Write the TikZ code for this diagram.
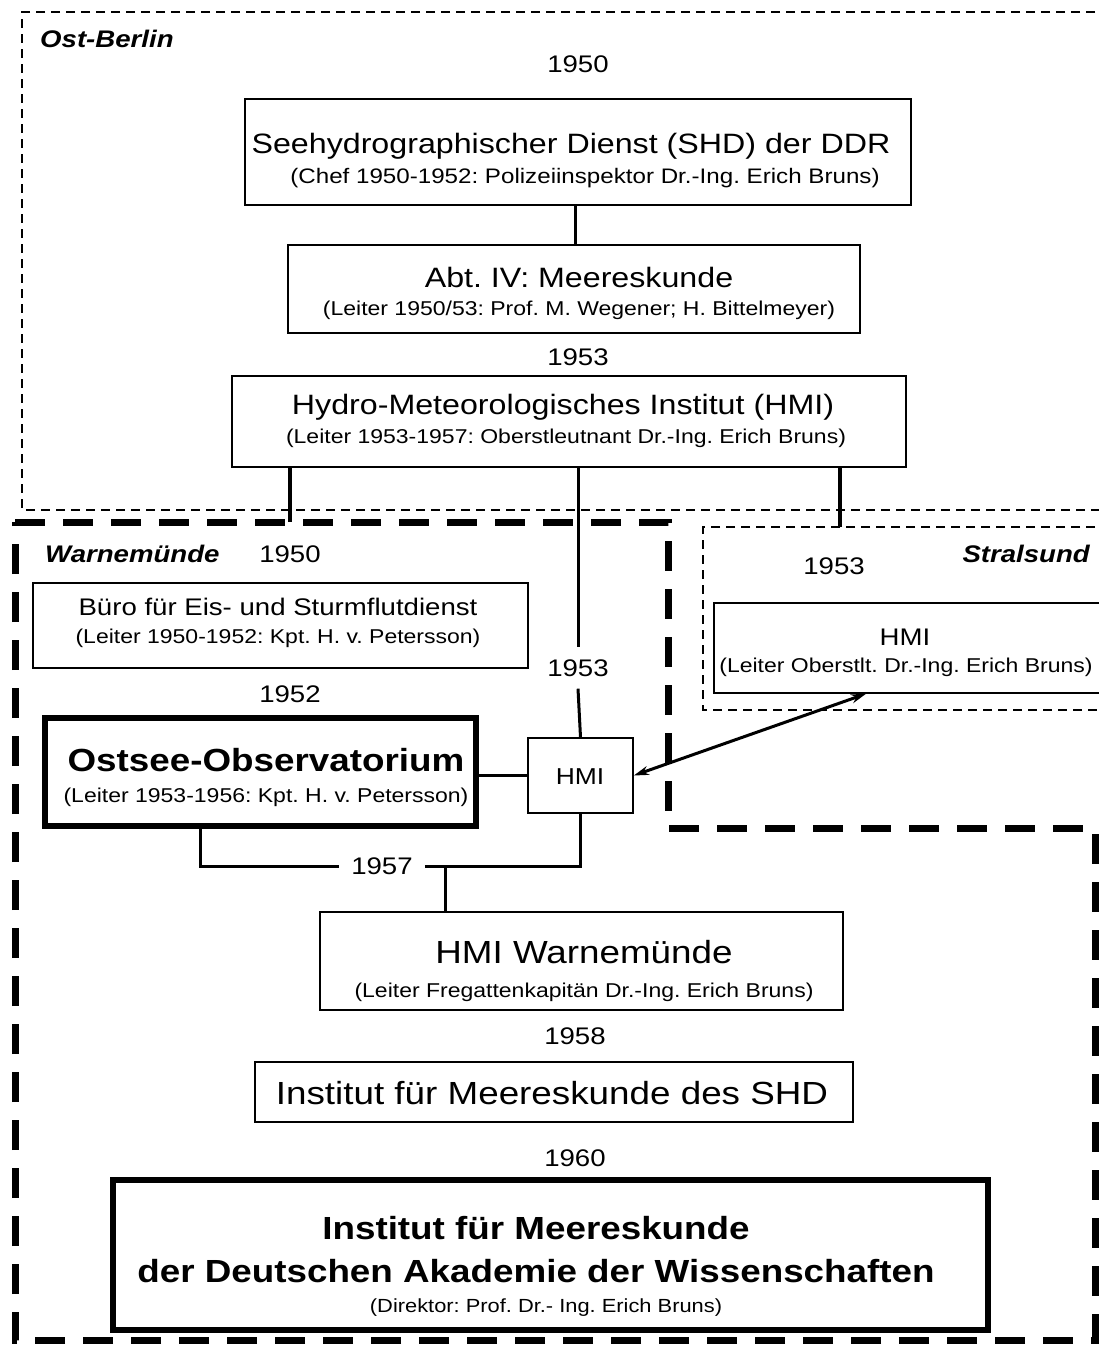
\documentclass[tikz,border=0pt]{standalone}
\usepackage{fontspec}
\setmainfont{Liberation Sans}[FakeStretch=1.15]
\usetikzlibrary{arrows.meta}
\newcommand\fsz[1]{\fontsize{#1pt}{#1pt}\selectfont}
\frenchspacing
\begin{document}
\begin{tikzpicture}[x=1pt,y=-1pt,
  box/.style={draw, line width=1.6pt, inner sep=0pt},
  heavybox/.style={draw, line width=5.5pt, inner sep=0pt},
  txt/.style={anchor=base, inner sep=0pt},
  yr/.style={anchor=base, inner sep=0pt, font=\fsz{24}},
  reg/.style={anchor=base, inner sep=0pt, font=\fsz{24}\bfseries\itshape},
  conn/.style={line width=3pt},
  thindash/.style={line width=1.8pt, dash pattern=on 9pt off 6pt},
  thickdash/.style={line width=7pt, dash pattern=on 30pt off 18pt}
]
\useasboundingbox (0,0) rectangle (1099,1347);
\fill[white] (0,0) rectangle (1099,1347);

% regions
\draw[thindash] (1110,12) -- (22,12) -- (22,510) -- (1110,510);
\draw[thindash] (1110,527) -- (703,527) -- (703,710) -- (1110,710);
\draw[thickdash] (15,522) -- (668,522) -- (668,828) -- (1095,828) -- (1095,1340) -- (15,1340) -- cycle;

\node[reg, anchor=base west] (lob) at (40,47) {Ost-Berlin};
\node[reg, anchor=base west] (lwm) at (45,562) {Warnemünde};
\node[reg, anchor=base east] (lst) at (1090,562) {Stralsund};

% Ost-Berlin
\node[yr] (y50a) at (578,72) {1950};
\node[box, minimum width=666, minimum height=106] (shd) at (578,152) {};
\node[txt, font=\fsz{28}] (shdt) at (571,153) {Seehydrographischer Dienst (SHD) der DDR};
\node[txt, font=\fsz{21}] (shds) at (585,183) {(Chef 1950-1952: Polizeiinspektor Dr.-Ing. Erich Bruns)};

\node[box, minimum width=572, minimum height=88] (abt) at (574,289) {};
\node[txt, font=\fsz{28}] (abtt) at (579,287) {Abt. IV: Meereskunde};
\node[txt, font=\fsz{20}] (abts) at (579,315) {(Leiter 1950/53: Prof. M. Wegener; H. Bittelmeyer)};

\node[yr] (y53a) at (578,365) {1953};
\node[box, minimum width=674, minimum height=91] (hmi) at (569,421.5) {};
\node[txt, font=\fsz{28}] (hmit) at (563,414) {Hydro-Meteorologisches Institut (HMI)};
\node[txt, font=\fsz{20}] (hmis) at (566,443) {(Leiter 1953-1957: Oberstleutnant Dr.-Ing. Erich Bruns)};

% Warnemuende
\node[yr] (y50b) at (290,562) {1950};
\node[box, minimum width=495, minimum height=85] (buero) at (280.5,625.5) {};
\node[txt, font=\fsz{24}] (bt) at (278,615) {Büro für Eis- und Sturmflutdienst};
\node[txt, font=\fsz{20}] (bs) at (278,643) {(Leiter 1950-1952: Kpt. H. v. Petersson)};

\node[yr] (y52) at (290,702) {1952};
\node[heavybox, minimum width=431, minimum height=108] (oo) at (260.5,772) {};
\node[txt, font=\fsz{32}\bfseries] (oot) at (266,771) {Ostsee-Observatorium};
\node[txt, font=\fsz{20}] (oos) at (266,802) {(Leiter 1953-1956: Kpt. H. v. Petersson)};

\node[yr, anchor=center, inner sep=12pt] (y53b) at (578,668) {1953};
\node[box, minimum width=105, minimum height=75] (hmism) at (580.5,775.5) {};
\node[txt, font=\fsz{23}] (hmismt) at (580,784) {HMI};

\node[yr, anchor=center, inner sep=12pt] (y57) at (382,866) {1957};

\node[box, minimum width=523, minimum height=98] (hmiw) at (581.5,961) {};
\node[txt, font=\fsz{32}] (hmiwt) at (584,963) {HMI Warnemünde};
\node[txt, font=\fsz{20}] (hmiws) at (584,997) {(Leiter Fregattenkapitän Dr.-Ing. Erich Bruns)};

\node[yr] (y58) at (575,1044) {1958};
\node[box, minimum width=598, minimum height=60] (ifm) at (554,1092) {};
\node[txt, font=\fsz{32}] (ifmt) at (552,1104) {Institut für Meereskunde des SHD};

\node[yr] (y60) at (575,1166) {1960};
\node[heavybox, minimum width=875, minimum height=150] (dak) at (550.5,1255) {};
\node[txt, font=\fsz{32}\bfseries] (dak1) at (536,1239) {Institut für Meereskunde};
\node[txt, font=\fsz{32}\bfseries] (dak2) at (536,1282) {der Deutschen Akademie der Wissenschaften};
\node[txt, font=\fsz{19}] (dak3) at (546,1312) {(Direktor: Prof. Dr.- Ing. Erich Bruns)};

% Stralsund
\node[yr] (y53c) at (834,574) {1953};
\node[box, minimum width=400, minimum height=90] (hmist) at (914,648) {};
\node[txt, font=\fsz{24}] (hmistt) at (905,645) {HMI};
\node[txt, font=\fsz{20}] (hmists) at (906,672.5) {(Leiter Oberstlt. Dr.-Ing. Erich Bruns)};

% connectors
\coordinate (wtop) at (290,522);
\coordinate (sttop) at (840,527);
\coordinate (j57) at (445,867);
\draw[conn] (shd.south -| 575,0) -- (abt.north -| 575,0);
\draw[conn, line width=4pt] (hmi.south -| wtop) -- (wtop);
\draw[conn, line width=4pt] (hmi.south -| sttop) -- (sttop);
\draw[conn] (hmi.south -| y53b) -- (y53b.north);
\draw[conn] (y53b.south) -- (hmism.north);
\draw[conn] (oo.east |- hmism.west) -- (hmism.west);
\draw[conn] (oo.south -| 200,0) |- (y57.west);
\draw[conn] (y57.east) -| (hmism.south);
\draw[conn] (j57) -- (j57 |- hmiw.north);
\draw[line width=3pt, {Stealth[length=15pt,width=9pt]}-{Stealth[length=15pt,width=9pt]}] (hmism.east) -- (hmist.south -| 866,0);
\end{tikzpicture}
\end{document}
